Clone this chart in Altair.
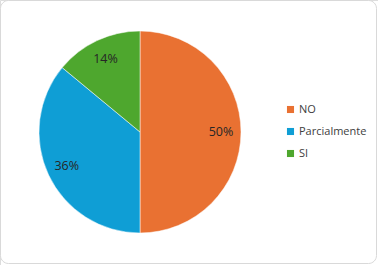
import altair as alt
import pandas as pd

categories = ["NO", "Parcialmente", "SI"]
values = [50, 36, 14]
labels = ["50%", "36%", "14%"]
order = [0, 1, 2]
colors = ["#E97132", "#0F9ED5", "#4EA72E"]

df = pd.DataFrame({"cat": categories, "val": values, "lab": labels, "ord": order})

FONT = "Open Sans"

frame = alt.Chart(alt.Data(values=[{"a": 1}])).mark_rect(
    fill="white", stroke="#D9D9D9", strokeWidth=1, cornerRadius=8
).encode(
    x=alt.value(0.5), x2=alt.value(376.5), y=alt.value(0.5), y2=alt.value(263.5)
)

base = alt.Chart(df).encode(
    theta=alt.Theta("val:Q", stack=True),
    order=alt.Order("ord:Q"),
    x=alt.value(140),
    y=alt.value(132),
)

pie = base.mark_arc(radius=101, stroke="white", strokeWidth=0.5).encode(
    color=alt.Color(
        "cat:N",
        scale=alt.Scale(domain=categories, range=colors),
        legend=alt.Legend(
            title=None,
            orient="none",
            legendX=285,
            legendY=104,
            symbolType="square",
            symbolSize=50,
            symbolStrokeWidth=0,
            labelFontSize=11,
            labelFont=FONT,
            labelColor="#404040",
            rowPadding=10,
            labelOffset=3,
            padding=0,
        ),
    )
)

text = base.mark_text(radius=81, fontSize=12.5, font=FONT, color="#262626").encode(
    text="lab:N"
)

chart = (
    alt.layer(frame, pie, text)
    .properties(width=378, height=265, padding=0, autosize="none")
    .configure_view(stroke=None)
    .configure(background="white")
)

chart.save("out.html", embed_options={"renderer": "svg", "actions": False})
